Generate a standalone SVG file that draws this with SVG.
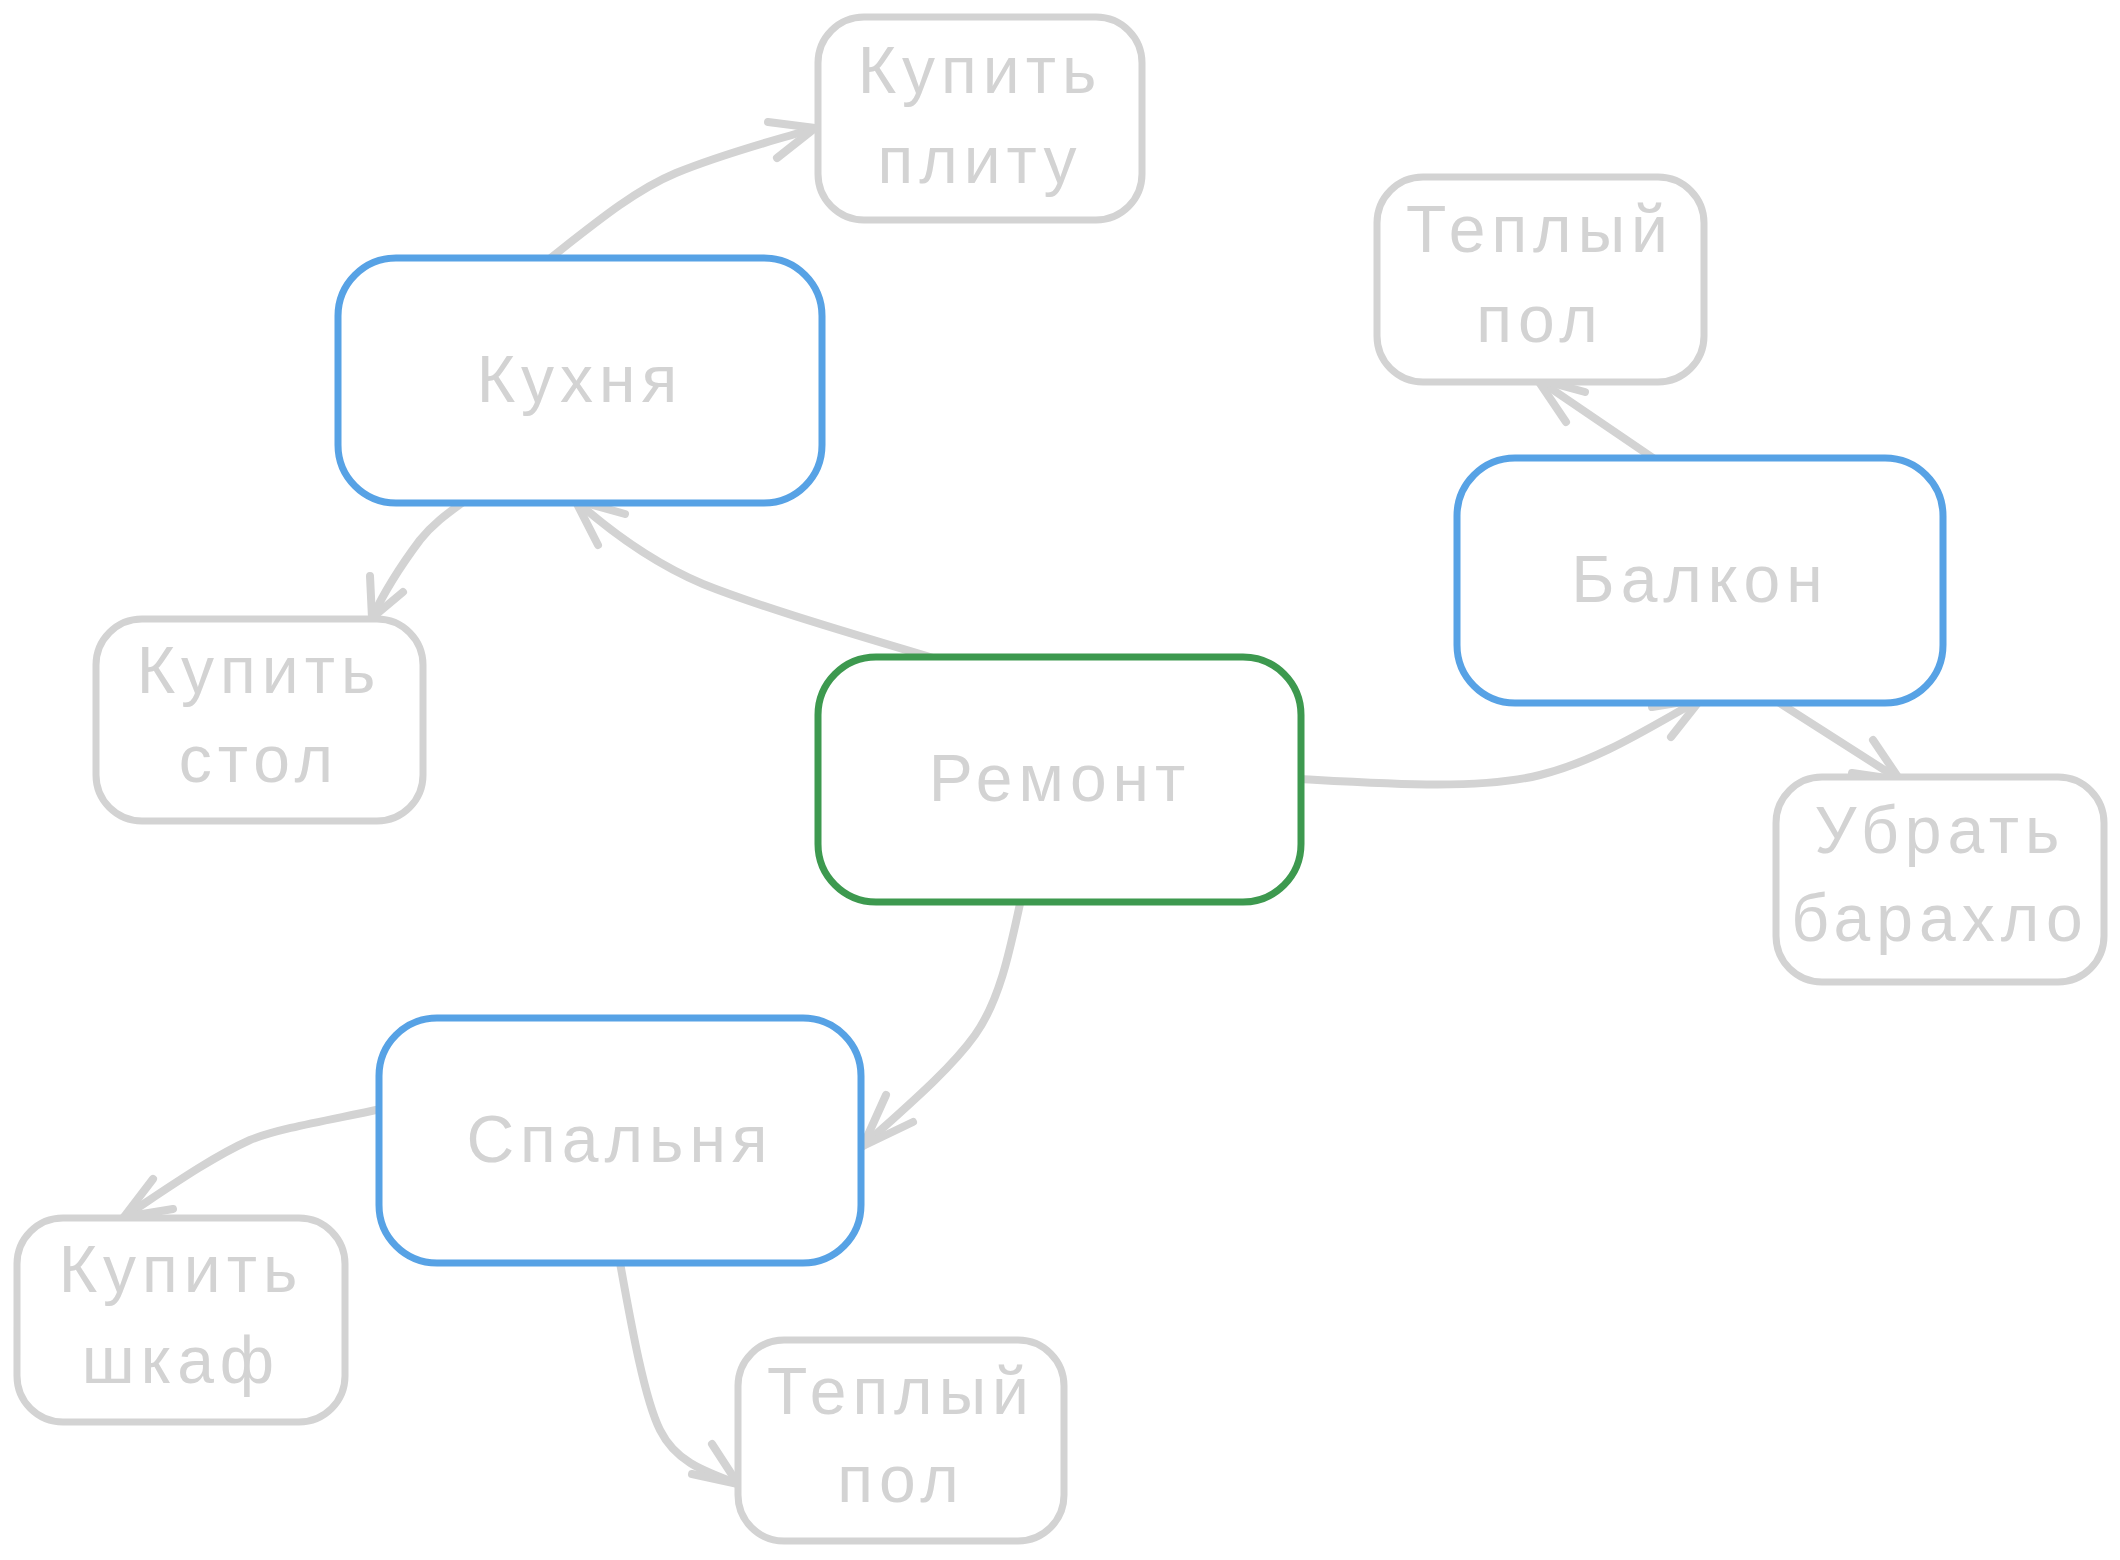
<svg xmlns="http://www.w3.org/2000/svg" width="2120" height="1560" viewBox="0 0 2120 1560">
<defs>
<style>
.bg{fill:#ffffff}
.box{fill:#ffffff;stroke-width:7;stroke-linejoin:round}
.gray{stroke:#d3d3d3}
.blue{stroke:#57a2e5}
.green{stroke:#3d994f}
.lbl{font-family:"Liberation Sans","Noto Sans",sans-serif;font-size:66px;fill:#d3d3d3;text-anchor:middle;letter-spacing:6px}
.con{fill:none;stroke:#d3d3d3;stroke-width:8;stroke-linecap:round;stroke-linejoin:round}
</style>
</defs>
<rect class="bg" x="0" y="0" width="2120" height="1560"/>
<g id="connectors">
  <path class="con" d="M548,260 C595,223 635,190 676,173 C730,151 784,138 815,128"/>
  <path class="con" d="M768,122 L815,128 L777,158"/>
  <path class="con" d="M933,658 C860,636 760,607 703,584 C665,568 620,540 575,500"/>
  <path class="con" d="M625,514 L575,500 L598,545"/>
  <path class="con" d="M466,500 C445,515 432,525 420,540 C405,560 385,590 372,618"/>
  <path class="con" d="M370,576 L372,618 L403,592"/>
  <path class="con" d="M1301,779 C1390,784 1480,790 1540,775 C1600,760 1650,727 1701,699"/>
  <path class="con" d="M1652,707 L1701,699 L1671,737"/>
  <path class="con" d="M1656,460 L1537,379"/>
  <path class="con" d="M1585,392 L1537,379 L1566,422"/>
  <path class="con" d="M1775,700 L1900,780"/>
  <path class="con" d="M1873,740 L1900,780 L1852,773"/>
  <path class="con" d="M1021,899 C1010,950 1000,1000 975,1035 C950,1070 905,1108 863,1146"/>
  <path class="con" d="M886,1095 L863,1146 L913,1122"/>
  <path class="con" d="M381,1109 C330,1120 280,1128 250,1140 C210,1158 165,1190 124,1217"/>
  <path class="con" d="M153,1179 L124,1217 L173,1209"/>
  <path class="con" d="M619,1257 C632,1330 645,1400 660,1430 C675,1460 700,1470 738,1484"/>
  <path class="con" d="M712,1444 L738,1484 L692,1474"/>
</g>
<g id="node-kitchen">
  <rect class="box blue" x="338" y="258" width="484" height="245" rx="58"/>
  <text class="lbl" x="580" y="402">Кухня</text>
</g>
<g id="node-remont">
  <rect class="box green" x="818" y="657" width="483" height="245" rx="58"/>
  <text class="lbl" x="1060" y="801">Ремонт</text>
</g>
<g id="node-balkon">
  <rect class="box blue" x="1457" y="458" width="486" height="245" rx="58"/>
  <text class="lbl" x="1700" y="602">Балкон</text>
</g>
<g id="node-spalnya">
  <rect class="box blue" x="379" y="1018" width="482" height="245" rx="58"/>
  <text class="lbl" x="620" y="1162">Спальня</text>
</g>
<g id="node-plita">
  <rect class="box gray" x="818" y="17" width="324" height="203" rx="46"/>
  <text class="lbl" x="980" y="93">Купить</text>
  <text class="lbl" x="980" y="183">плиту</text>
</g>
<g id="node-pol1">
  <rect class="box gray" x="1377" y="177" width="327" height="205" rx="46"/>
  <text class="lbl" x="1540" y="252">Теплый</text>
  <text class="lbl" x="1540" y="342">пол</text>
</g>
<g id="node-stol">
  <rect class="box gray" x="96" y="619" width="327" height="202" rx="46"/>
  <text class="lbl" x="259" y="693">Купить</text>
  <text class="lbl" x="259" y="782">стол</text>
</g>
<g id="node-barahlo">
  <rect class="box gray" x="1776" y="777" width="328" height="205" rx="46"/>
  <text class="lbl" x="1940" y="853">Убрать</text>
  <text class="lbl" x="1940" y="941">барахло</text>
</g>
<g id="node-shkaf">
  <rect class="box gray" x="17" y="1218" width="328" height="204" rx="46"/>
  <text class="lbl" x="181" y="1292">Купить</text>
  <text class="lbl" x="181" y="1383">шкаф</text>
</g>
<g id="node-pol2">
  <rect class="box gray" x="738" y="1340" width="326" height="201" rx="46"/>
  <text class="lbl" x="901" y="1414">Теплый</text>
  <text class="lbl" x="901" y="1502">пол</text>
</g>
</svg>
